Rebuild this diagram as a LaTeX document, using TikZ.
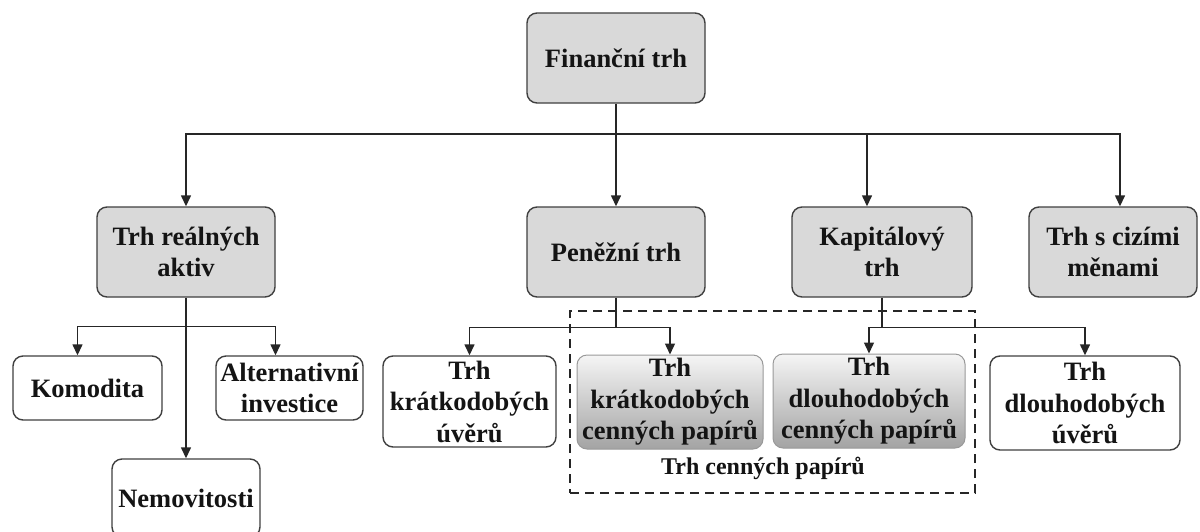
\documentclass[tikz,border=0pt]{standalone}
\usepackage{fontspec}
\setmainfont{Liberation Serif}
\usetikzlibrary{arrows.meta,shadings,calc}
\begin{document}
\begin{tikzpicture}[x=1pt,y=-1pt,
  box/.style={draw=black!75, line width=1.4pt, rounded corners=10pt, align=center,
    font=\bfseries\fontsize{26.5}{31.5}\selectfont, inner sep=0pt, text=black!92},
  gbox/.style={box, fill=gray!30},
  wbox/.style={box, fill=white},
  shbox/.style={box, draw=gray!80, line width=1pt, top color=gray!8, bottom color=gray!72},
  line/.style={line width=1.4pt, draw=black!85},
  arr/.style={line, -{Triangle[length=11pt,width=10pt]}},
  dashbox/.style={draw=black!85, line width=2pt, dash pattern=on 9pt off 6pt, inner sep=0pt},
  lbl/.style={font=\bfseries\fontsize{24}{28}\selectfont, text=black!92, inner sep=0pt}
]
\useasboundingbox (0,0) rectangle (1200,531);
\fill[white] (0,0) rectangle (1200,531);

% group frame
\node[dashbox, minimum width=405pt, minimum height=182pt] (grp) at (772.5,402) {};
\node[lbl] (grplbl) at (763,468) {Trh cenných papírů};

% nodes
\node[gbox, minimum width=178pt, minimum height=90pt] (fin) at (616,58) {Finanční trh};
\node[gbox, minimum width=178pt, minimum height=90pt] (real) at (186,252) {Trh reálných\\aktiv};
\node[gbox, minimum width=178pt, minimum height=90pt] (pen) at (616,252) {Peněžní trh};
\node[gbox, minimum width=180pt, minimum height=90pt] (kap) at (882,252) {Kapitálový\\trh};
\node[gbox, minimum width=168pt, minimum height=90pt] (miz) at (1113,252) {Trh s cizími\\měnami};

\node[wbox, minimum width=149pt, minimum height=64pt] (kom) at (87.5,388) {Komodita};
\node[wbox, minimum width=147pt, minimum height=64pt] (alt) at (289.5,388) {Alternativní\\investice};
\node[wbox, minimum width=148pt, minimum height=78pt] (nem) at (186,498) {Nemovitosti};

\node[wbox, minimum width=173pt, minimum height=91pt] (ku) at (469.5,401.5) {Trh\\krátkodobých\\úvěrů};
\node[shbox, minimum width=186pt, minimum height=94pt] (kcp) at (670,402) {Trh\\krátkodobých\\cenných papírů};
\node[shbox, minimum width=192pt, minimum height=94pt] (dcp) at (869,401) {Trh\\dlouhodobých\\cenných papírů};
\node[wbox, minimum width=190pt, minimum height=94pt] (du) at (1085,403) {Trh\\dlouhodobých\\úvěrů};

% connectors
\coordinate (bus) at (616,134);
\draw[line] (fin.south) -- (bus);
\draw[arr] (bus) -| (real.north);
\draw[arr] (bus) -- (pen.north);
\draw[arr] (bus) -| ([xshift=-15pt]kap.north);
\draw[arr] (bus) -| ([xshift=7pt]miz.north);

\coordinate (rb) at ($(real.south)+(0,29)$);
\draw[arr] (real.south) -- (nem.north);
\draw[arr] (rb) -| ([xshift=-10pt]kom.north);
\draw[arr] (rb) -| ([xshift=-14pt]alt.north);

\coordinate (pb) at ($(pen.south)+(0,30)$);
\draw[line] (pen.south) -- (pb);
\draw[arr] (pb) -| (ku.north);
\draw[arr] (pb) -| (kcp.north);

\coordinate (kb) at ($(kap.south)+(0,30)$);
\draw[line] (kap.south) -- (kb);
\draw[arr] (kb) -| (dcp.north);
\draw[arr] (kb) -| (du.north);
\end{tikzpicture}
\end{document}
